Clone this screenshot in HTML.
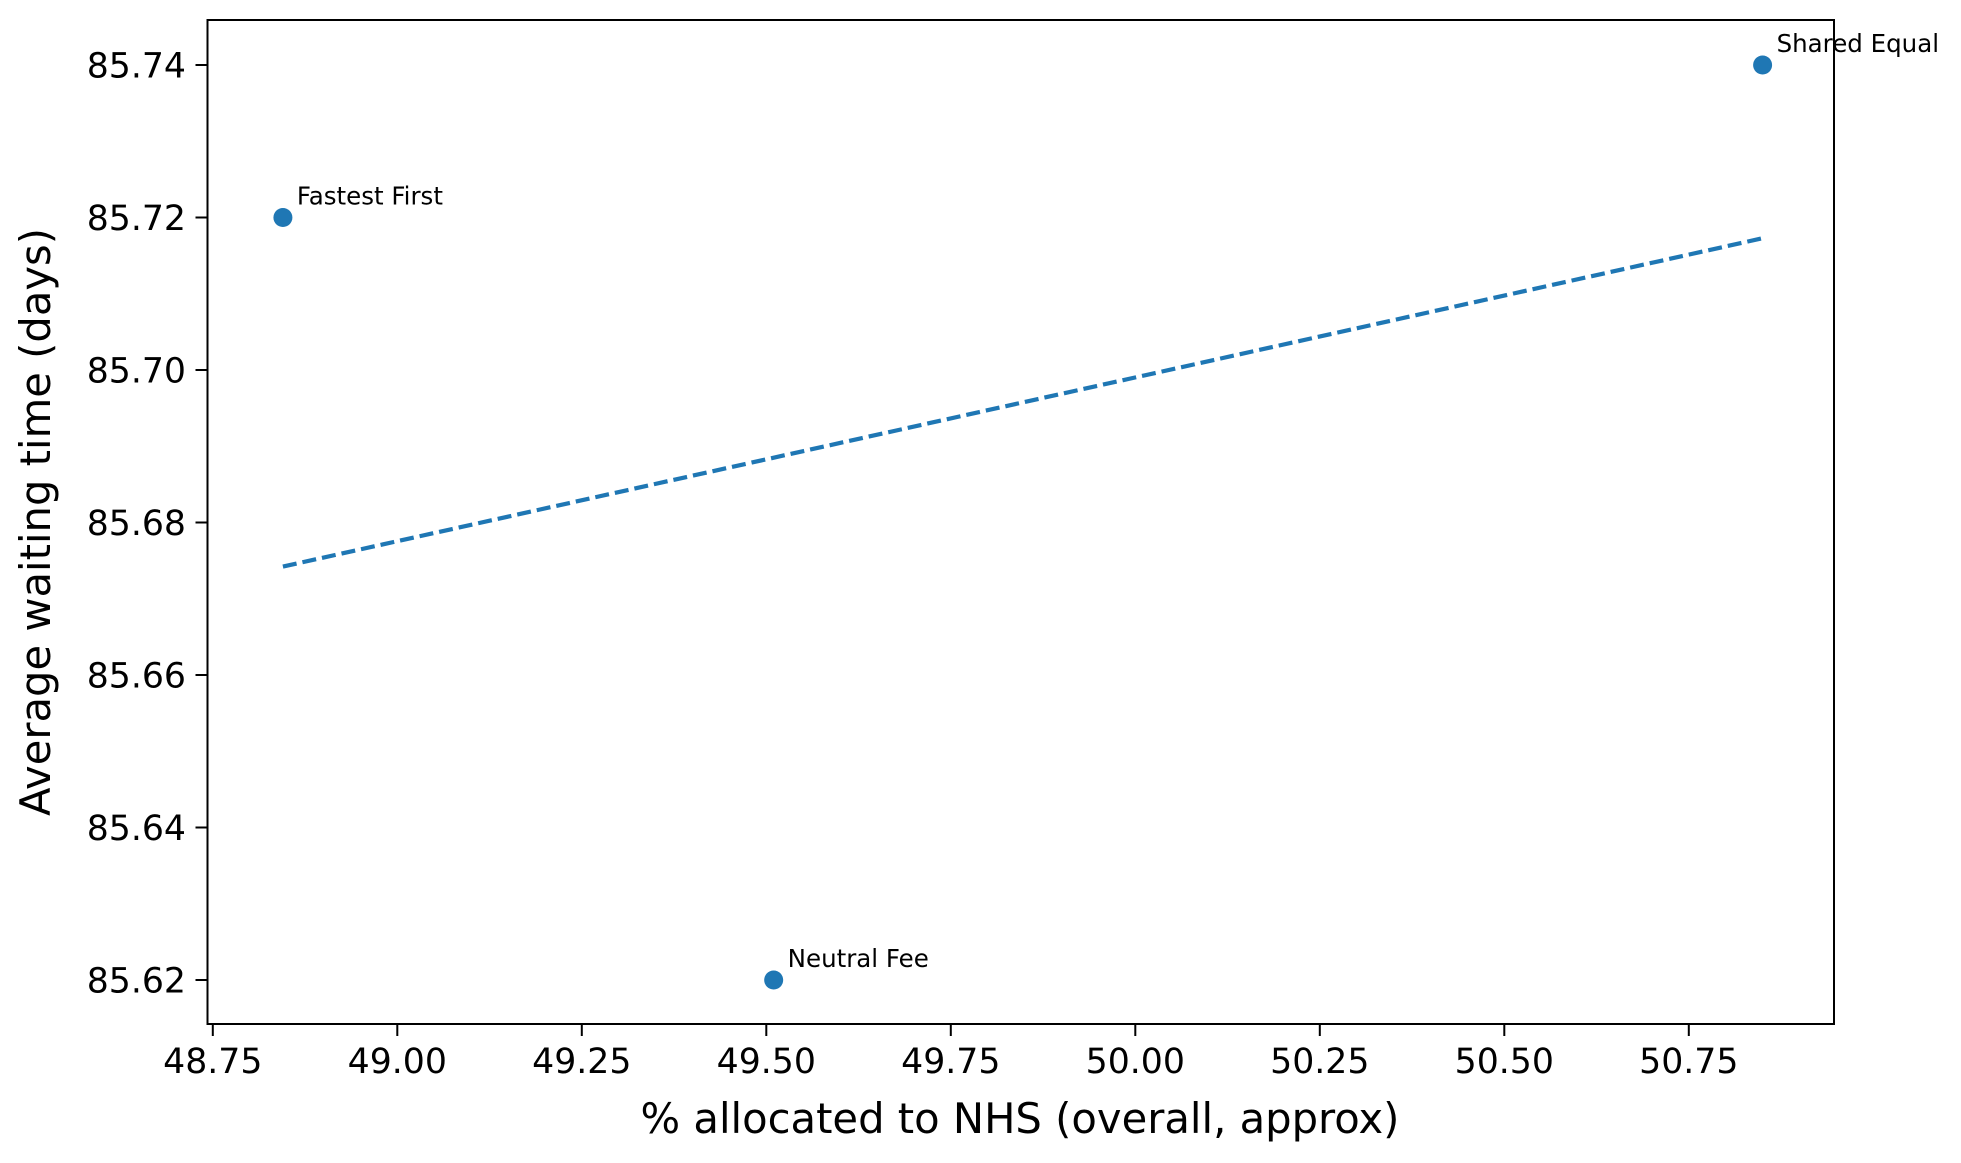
<!DOCTYPE html>
<html><head><meta charset="utf-8"><style>
html,body{margin:0;padding:0;background:#fff;}
svg{display:block;font-family:"DejaVu Sans","Liberation Sans",sans-serif;}
</style></head><body>
<svg id="chart" width="1961" height="1163" viewBox="0 0 1961 1163">
<rect x="0" y="0" width="1961" height="1163" fill="#fff"/>
<g id="plot"></g>
<rect x="207.5" y="20" width="1626.5" height="1004" fill="none" stroke="#000" stroke-width="2"/>
<text x="1020" y="1133" text-anchor="middle" font-size="41.7">% allocated to NHS (overall, approx)</text>
<text transform="translate(50,522) rotate(-90)" text-anchor="middle" font-size="41.7">Average waiting time (days)</text>
</svg>
<script>
const labels = ["Fastest First", "Neutral Fee", "Shared Equal"];
const xValues = [48.845, 49.51, 50.85];
const yValues = [85.72, 85.62, 85.74];
const xTicks = [48.75, 49.00, 49.25, 49.50, 49.75, 50.00, 50.25, 50.50, 50.75];
const yTicks = [85.62, 85.64, 85.66, 85.68, 85.70, 85.72, 85.74];

const NS = "http://www.w3.org/2000/svg";
const g = document.getElementById('plot');
function xs(v){ return 212.8 + (v - 48.75) / 0.25 * 184.5; }
function ys(v){ return 980 - (v - 85.62) / 0.12 * 915; }
function mk(tag, attrs, text){
  const e = document.createElementNS(NS, tag);
  for (const k in attrs) e.setAttribute(k, attrs[k]);
  if (text !== undefined) e.textContent = text;
  g.appendChild(e);
  return e;
}
xTicks.forEach(t => {
  const x = xs(t);
  const l = mk('line', {x1:x, x2:x, y1:1024, y2:1036, stroke:'#000', 'stroke-width':2});
  
  
  const tx = mk('text', {x:x, y:1073, 'text-anchor':'middle', 'font-size':34.7}, t.toFixed(2));
  
  
});
yTicks.forEach(t => {
  const y = ys(t);
  const l = mk('line', {x1:195.5, x2:207.5, y1:y, y2:y, stroke:'#000', 'stroke-width':2});
  
  
  const tx = mk('text', {x:186, y:y + 12.5, 'text-anchor':'end', 'font-size':34.7}, t.toFixed(2));
  
  
});
// least-squares trend
const n = xValues.length;
const mx = xValues.reduce((a,b)=>a+b,0)/n, my = yValues.reduce((a,b)=>a+b,0)/n;
let sxy = 0, sxx = 0;
for (let i=0;i<n;i++){ sxy += (xValues[i]-mx)*(yValues[i]-my); sxx += (xValues[i]-mx)**2; }
const slope = sxy/sxx, icpt = my - slope*mx;
const x0 = Math.min(...xValues), x1 = Math.max(...xValues);
const tl = mk('line', {x1:xs(x0), y1:ys(slope*x0+icpt), x2:xs(x1), y2:ys(slope*x1+icpt), stroke:'#1f77b4', 'stroke-width':4.2, 'stroke-dasharray':'14 6'});


for (let i=0;i<n;i++){
  const c = mk('circle', {cx:xs(xValues[i]), cy:ys(yValues[i]), r:9.5, fill:'#1f77b4'});
  
  
  const t = mk('text', {x:xs(xValues[i]) + 14, y:ys(yValues[i]) - 13, 'font-size':24.5}, labels[i]);
  
  
}
</script>
</body></html>
